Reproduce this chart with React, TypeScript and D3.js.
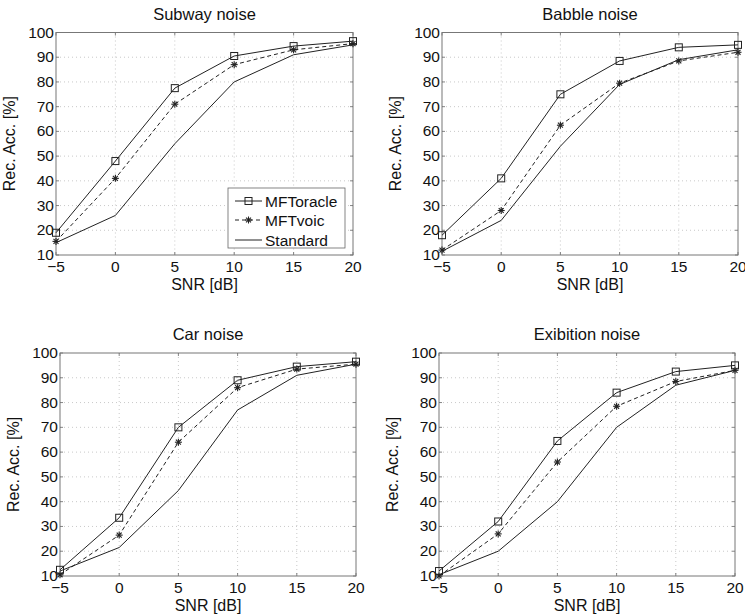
import React from "react";
import * as d3 from "d3";

const snr = [-5, 0, 5, 10, 15, 20];
const xTicks = [-5, 0, 5, 10, 15, 20];
const yTicks = [10, 20, 30, 40, 50, 60, 70, 80, 90, 100];
const titles = ["Subway noise", "Babble noise", "Car noise", "Exibition noise"];
const seriesNames = ["MFToracle", "MFTvoic", "Standard"];

const subwayOracle = [19, 48, 77.5, 90.5, 94.5, 96.5];
const subwayVoic = [15.5, 41, 71, 87, 93, 95.5];
const subwayStd = [15, 26, 55, 80, 91, 95];

const babbleOracle = [18, 41, 75, 88.5, 94, 95];
const babbleVoic = [12, 28, 62.5, 79.5, 88.5, 92];
const babbleStd = [11.5, 24, 54, 79, 89, 93];

const carOracle = [12.5, 33.5, 70, 89, 94.5, 96.5];
const carVoic = [10.5, 26.5, 64, 86, 93.5, 95.5];
const carStd = [12, 21.5, 44.5, 77, 91, 95.5];

const exOracle = [12, 32, 64.5, 84, 92.5, 95];
const exVoic = [10, 27, 56, 78.5, 88.5, 93];
const exStd = [10.5, 20, 40, 70, 87, 93];

const panelData = [
  [subwayOracle, subwayVoic, subwayStd],
  [babbleOracle, babbleVoic, babbleStd],
  [carOracle, carVoic, carStd],
  [exOracle, exVoic, exStd],
];

const boxes = [
  { l: 56, r: 353, t: 32.5, b: 255 },
  { l: 442, r: 738, t: 32.5, b: 255 },
  { l: 60, r: 356, t: 353, b: 576 },
  { l: 439, r: 735, t: 353, b: 576 },
];

const FONT = "'Liberation Sans', Arial, Helvetica, sans-serif";
const LINE = "#222";

function Square({ x, y }: { x: number; y: number }) {
  const s = 3.5;
  return <rect x={x - s} y={y - s} width={2 * s} height={2 * s} fill="none" stroke={LINE} strokeWidth={1} />;
}
function Star({ x, y }: { x: number; y: number }) {
  const s = 3.5;
  const d = s * 0.71;
  return (
    <g stroke={LINE} strokeWidth={1.1}>
      <line x1={x - s} y1={y} x2={x + s} y2={y} />
      <line x1={x} y1={y - s} x2={x} y2={y + s} />
      <line x1={x - d} y1={y - d} x2={x + d} y2={y + d} />
      <line x1={x - d} y1={y + d} x2={x + d} y2={y - d} />
    </g>
  );
}

function Panel({ idx }: { idx: number }) {
  const box = boxes[idx];
  const x = d3.scaleLinear().domain([-5, 20]).range([box.l, box.r]);
  const y = d3.scaleLinear().domain([10, 100]).range([box.b, box.t]);
  const line = d3
    .line<number>()
    .x((_, i) => x(snr[i]))
    .y((v) => y(v));
  const data = panelData[idx];
  const cx = (box.l + box.r) / 2;
  const cy = (box.t + box.b) / 2;
  return (
    <g>
      {xTicks.slice(1, -1).map((t) => (
        <line key={"gx" + t} x1={x(t)} x2={x(t)} y1={box.t} y2={box.b} stroke="#bbb" strokeWidth={0.8} strokeDasharray="1,3" />
      ))}
      {yTicks.slice(1, -1).map((t) => (
        <line key={"gy" + t} x1={box.l} x2={box.r} y1={y(t)} y2={y(t)} stroke="#bbb" strokeWidth={0.8} strokeDasharray="1,3" />
      ))}
      {xTicks.map((t) => (
        <g key={"tx" + t}>
          <line x1={x(t)} x2={x(t)} y1={box.b} y2={box.b - 3} stroke="#666" strokeWidth={0.8} />
          <line x1={x(t)} x2={x(t)} y1={box.t} y2={box.t + 3} stroke="#666" strokeWidth={0.8} />
          <text x={x(t)} y={box.b + 17} textAnchor="middle" fontSize={15.5} fontFamily={FONT} fill="#111">
            {t < 0 ? "\u2212" + Math.abs(t) : t}
          </text>
        </g>
      ))}
      {yTicks.map((t) => (
        <g key={"ty" + t}>
          <line x1={box.l} x2={box.l + 3} y1={y(t)} y2={y(t)} stroke="#666" strokeWidth={0.8} />
          <line x1={box.r} x2={box.r - 3} y1={y(t)} y2={y(t)} stroke="#666" strokeWidth={0.8} />
          <text x={box.l - 2} y={y(t) + 5} textAnchor="end" fontSize={15.5} fontFamily={FONT} fill="#111">
            {t}
          </text>
        </g>
      ))}
      <rect x={box.l} y={box.t} width={box.r - box.l} height={box.b - box.t} fill="none" stroke="#777" strokeWidth={1} />
      <path d={line(data[2]) || ""} fill="none" stroke={LINE} strokeWidth={1} />
      <path d={line(data[1]) || ""} fill="none" stroke={LINE} strokeWidth={1} strokeDasharray="4,3" />
      <path d={line(data[0]) || ""} fill="none" stroke={LINE} strokeWidth={1} />
      {data[0].map((v, i) => (
        <Square key={"sq" + i} x={x(snr[i])} y={y(v)} />
      ))}
      {data[1].map((v, i) => (
        <Star key={"st" + i} x={x(snr[i])} y={y(v)} />
      ))}
      <text x={cx} y={box.t - 13} textAnchor="middle" fontSize={16.5} fontFamily={FONT} fill="#111">
        {titles[idx]}
      </text>
      <text x={cx} y={box.b + 35} textAnchor="middle" fontSize={16} fontFamily={FONT} fill="#111">
        SNR [dB]
      </text>
      <text
        transform={`translate(${box.l - 41},${cy}) rotate(-90)`}
        textAnchor="middle"
        fontSize={16}
        fontFamily={FONT}
        fill="#111"
      >
        Rec. Acc. [%]
      </text>
      {idx === 0 && <Legend />}
    </g>
  );
}

function Legend() {
  const lx = 228;
  const ly = 188;
  const w = 117;
  const h = 60;
  const rows = [201, 220, 240];
  return (
    <g>
      <rect x={lx} y={ly} width={w} height={h} fill="#fff" stroke="#666" strokeWidth={0.8} />
      {seriesNames.map((n, i) => (
        <g key={n}>
          <line
            x1={235}
            x2={262}
            y1={rows[i]}
            y2={rows[i]}
            stroke={LINE}
            strokeWidth={1}
            strokeDasharray={i === 1 ? "4,3" : undefined}
          />
          {i === 0 && <Square x={248.5} y={rows[i]} />}
          {i === 1 && <Star x={248.5} y={rows[i]} />}
          <text x={265} y={rows[i] + 5.5} fontSize={15.5} fontFamily={FONT} fill="#111">
            {n}
          </text>
        </g>
      ))}
    </g>
  );
}

export default function App() {
  return (
    <svg width={745} height={616} style={{ position: "absolute", left: 0, top: 0, background: "#fff" }}>
      <rect width={745} height={616} fill="#fff" />
      {[0, 1, 2, 3].map((i) => (
        <Panel key={i} idx={i} />
      ))}
    </svg>
  );
}
